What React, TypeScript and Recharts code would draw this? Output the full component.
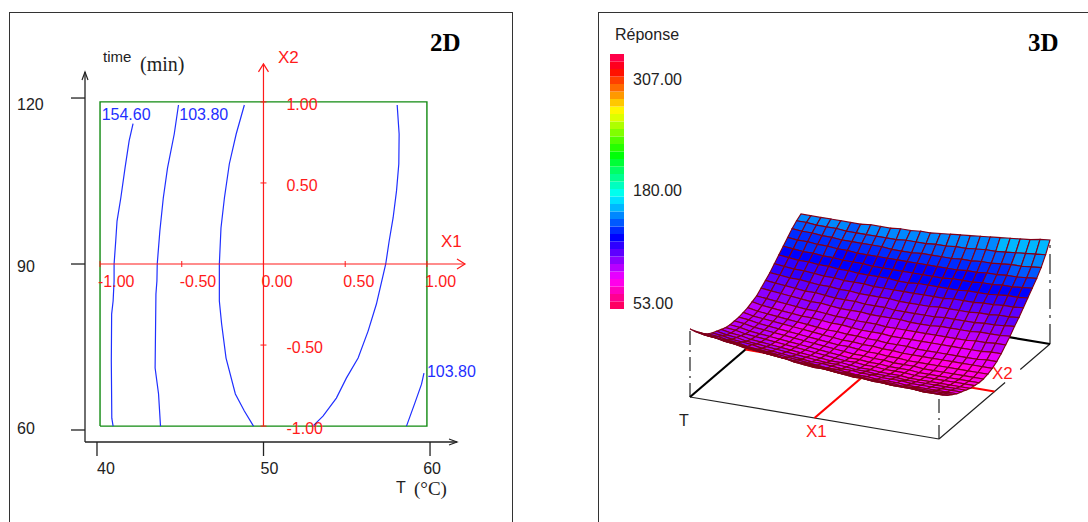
import React from 'react';
import { Bar, BarChart, Scatter, ScatterChart, XAxis, YAxis } from 'recharts';

const RED = '#ff1a1a';
const BLUE = '#1f2fff';
const INK = '#222222';

// 2D panel
const tempTicks = [40, 50, 60];
const timeTicks = [60, 90, 120];
const x1Labels = [-1, -0.5, 0, 0.5, 1];
const x2Labels = [1, 0.5, -0.5, -1];

const contour1 = [
    [-0.798, 0.866], [-0.822, 0.759], [-0.847, 0.593], [-0.873, 0.407], [-0.896, 0.265], [-0.904, 0.142], [-0.914, 0],
    [-0.914, -0.105], [-0.92, -0.228], [-0.929, -0.309], [-0.931, -0.599], [-0.928, -0.951], [-0.92, -1],
];
const contour2 = [
    [-0.52, 0.981], [-0.546, 0.802], [-0.587, 0.593], [-0.613, 0.407], [-0.634, 0.204], [-0.65, 0],
    [-0.652, -0.105], [-0.658, -0.185], [-0.663, -0.642], [-0.642, -0.802], [-0.63, -1],
];
const contour3 = [
    [-0.117, 0.981], [-0.167, 0.802], [-0.209, 0.617], [-0.239, 0.407], [-0.26, 0.222], [-0.27, 0],
    [-0.27, -0.228], [-0.256, -0.37], [-0.229, -0.58], [-0.172, -0.802], [-0.117, -0.907], [-0.061, -1],
];
const contour4 = [
    [0.818, 0.981], [0.83, 0.802], [0.828, 0.617], [0.814, 0.451], [0.793, 0.284], [0.769, 0.142], [0.748, 0],
    [0.691, -0.247], [0.64, -0.414], [0.579, -0.58], [0.507, -0.704], [0.446, -0.827], [0.364, -0.938], [0.302, -1],
];
const contour5 = [[0.982, -0.673], [0.967, -0.741], [0.926, -0.858], [0.875, -1]];
const contours = [contour1, contour2, contour3, contour4, contour5];

const contourLabels = [
    { x: -0.99, y: 0.888, text: '154.60' },
    { x: -0.515, y: 0.888, text: '103.80' },
    { x: 1, y: -0.7, text: '103.80' },
];

// colour scale, bottom to top, hue of each band
const bandHues = [
    337, 326, 315, 305, 294, 283, 273, 262, 251, 240, 230, 219, 208, 197, 187, 176, 165,
    154, 144, 133, 122, 111, 101, 90, 79, 68, 58, 47, 36, 25, 15, 4, 353, 343,
];
const RESPONSE_MIN = 53;
const RESPONSE_MAX = 307;

// response over the 3D grid: one row per X2 step (front to back), one value per X1 step
const surface = [
    [119, 117, 116, 114, 113, 111, 110, 109, 107, 106, 105, 104, 103, 102, 101, 100, 100, 99, 98, 98, 97, 97, 97, 96, 96, 96],
    [113, 111, 110, 108, 107, 105, 104, 103, 102, 101, 99, 98, 97, 97, 96, 95, 94, 94, 93, 93, 92, 92, 92, 91, 91, 91],
    [108, 106, 105, 103, 102, 101, 99, 98, 97, 96, 95, 94, 93, 92, 91, 91, 90, 89, 89, 88, 88, 88, 87, 87, 87, 87],
    [103, 101, 100, 99, 97, 96, 95, 94, 92, 91, 90, 90, 89, 88, 87, 87, 86, 85, 85, 85, 84, 84, 84, 84, 84, 84],
    [99, 98, 96, 95, 93, 92, 91, 90, 89, 88, 87, 86, 85, 85, 84, 83, 83, 82, 82, 82, 81, 81, 81, 81, 81, 81],
    [96, 95, 93, 92, 91, 89, 88, 87, 86, 85, 84, 84, 83, 82, 82, 81, 81, 80, 80, 80, 79, 79, 79, 79, 79, 79],
    [94, 92, 91, 89, 88, 87, 86, 85, 84, 83, 82, 81, 81, 80, 79, 79, 78, 78, 78, 77, 77, 77, 77, 77, 77, 77],
    [92, 90, 89, 87, 86, 85, 84, 83, 82, 81, 80, 79, 79, 78, 77, 77, 76, 76, 76, 75, 75, 75, 75, 75, 75, 75],
    [90, 89, 87, 86, 85, 84, 83, 82, 81, 80, 79, 78, 77, 77, 76, 76, 75, 75, 75, 74, 74, 74, 74, 74, 74, 74],
    [89, 88, 86, 85, 84, 83, 82, 81, 80, 79, 78, 77, 76, 76, 75, 75, 74, 74, 74, 73, 73, 73, 73, 73, 73, 73],
    [89, 88, 86, 85, 84, 83, 82, 81, 80, 79, 78, 77, 76, 76, 75, 75, 74, 74, 74, 73, 73, 73, 73, 73, 73, 73],
    [89, 88, 86, 85, 84, 83, 82, 81, 80, 79, 78, 78, 77, 76, 76, 75, 75, 74, 74, 74, 74, 74, 74, 74, 74, 74],
    [90, 88, 87, 86, 85, 84, 83, 82, 81, 80, 79, 79, 78, 78, 77, 77, 76, 76, 76, 76, 76, 76, 76, 76, 76, 76],
    [91, 89, 88, 87, 86, 85, 84, 83, 82, 82, 81, 81, 80, 80, 79, 79, 79, 78, 78, 78, 78, 78, 78, 78, 79, 79],
    [93, 91, 90, 89, 88, 87, 87, 86, 85, 85, 84, 83, 83, 83, 82, 82, 82, 82, 82, 82, 82, 82, 82, 82, 83, 83],
    [95, 94, 93, 92, 91, 90, 90, 89, 88, 88, 87, 87, 87, 86, 86, 86, 86, 86, 86, 86, 86, 86, 87, 87, 88, 88],
    [99, 98, 97, 96, 95, 94, 94, 93, 92, 92, 92, 91, 91, 91, 91, 90, 90, 90, 91, 91, 91, 91, 92, 92, 92, 93],
    [103, 102, 101, 100, 99, 99, 98, 97, 97, 97, 96, 96, 96, 95, 95, 95, 95, 95, 96, 96, 96, 96, 97, 97, 98, 99],
    [107, 106, 105, 105, 104, 103, 103, 102, 102, 101, 101, 101, 101, 100, 100, 100, 100, 101, 101, 101, 101, 102, 102, 103, 103, 104],
    [112, 111, 110, 110, 109, 108, 108, 107, 107, 107, 106, 106, 106, 106, 106, 106, 106, 106, 107, 107, 107, 108, 108, 109, 109, 110],
    [117, 116, 115, 115, 114, 114, 113, 113, 112, 112, 112, 112, 111, 111, 112, 112, 112, 112, 112, 113, 113, 113, 114, 115, 115, 116],
    [122, 121, 120, 120, 119, 119, 118, 118, 118, 117, 117, 117, 117, 117, 117, 117, 117, 118, 118, 118, 119, 119, 120, 120, 121, 122],
    [127, 126, 126, 125, 125, 124, 124, 123, 123, 123, 123, 123, 123, 123, 123, 123, 123, 123, 124, 124, 125, 125, 126, 126, 127, 128],
    [132, 131, 131, 130, 130, 129, 129, 129, 129, 129, 128, 128, 128, 129, 129, 129, 129, 130, 130, 131, 131, 132, 133, 133, 134, 135],
    [136, 136, 135, 135, 135, 134, 134, 134, 134, 134, 134, 135, 135, 135, 136, 136, 137, 137, 138, 139, 139, 140, 141, 142, 143, 144],
    [139, 139, 139, 139, 139, 139, 139, 140, 140, 140, 141, 141, 142, 142, 143, 144, 145, 146, 147, 148, 149, 150, 151, 152, 154, 155],
];

const COLOUR_SHIFT = 6;
const bandFor = (response: number) => {
    const i = Math.floor(((response + COLOUR_SHIFT - RESPONSE_MIN) / (RESPONSE_MAX - RESPONSE_MIN)) * bandHues.length);
    return Math.max(0, Math.min(bandHues.length - 1, i));
};
const bandColor = (response: number) => `hsl(${bandHues[bandFor(response)]},100%,50%)`;

// oblique view of the 3D box: u along X1, v along X2, response upward
const view = (u: number, v: number, response = 51) => ({
    x: 690 + 249 * u + 111 * v,
    y: 397 + 42 * u - 95 * v - (response - 51),
});

const rows = surface.length;
const cols = surface[0].length;
const surfacePoints = surface.flatMap((row, j) =>
    row.map((response, i) => view(i / (cols - 1), j / (rows - 1), response)),
);

const noMark = () => null;

const SurfaceMesh = ({ points }: any) => {
    const at = (i: number, j: number) => points[j * cols + i];
    const cells: React.ReactNode[] = [];
    for (let j = rows - 2; j >= 0; j--) {
        for (let i = 0; i < cols - 1; i++) {
            const corners = [at(i, j), at(i + 1, j), at(i + 1, j + 1), at(i, j + 1)];
            const mean = (surface[j][i] + surface[j][i + 1] + surface[j + 1][i] + surface[j + 1][i + 1]) / 4;
            cells.push(
                <polygon
                    key={`${i}-${j}`}
                    points={corners.map((p) => `${p.x},${p.y}`).join(' ')}
                    fill={bandColor(mean)}
                    stroke="#800018"
                    strokeWidth={1.15}
                />,
            );
        }
    }
    return <g>{cells}</g>;
};

const Label = ({ x, y, text, size = 16, color = INK, serif = false, bold = false }: any) => (
    <div
        style={{
            position: 'absolute',
            left: x,
            top: y - 12,
            lineHeight: '24px',
            fontSize: size,
            color,
            whiteSpace: 'pre',
            fontWeight: bold ? 'bold' : 'normal',
            fontFamily: serif ? '"Liberation Serif", serif' : '"Liberation Sans", sans-serif',
        }}
    >
        {text}
    </div>
);

const SANS = '"Liberation Sans", sans-serif';

const tempTick = ({ x, y, payload }: any) => (
    <text x={x + ({ 40: 9, 50: 6, 60: 2 } as any)[payload.value]} y={y + 16} textAnchor="middle" fontSize={16} fontFamily={SANS} fill={INK}>
        {payload.value}
    </text>
);

const timeTick = ({ y, payload }: any) => (
    <text x={17} y={y + 8 + ({ 120: 4, 90: 0, 60: -4 } as any)[payload.value]} fontSize={16} fontFamily={SANS} fill={INK}>
        {payload.value}
    </text>
);

const arrowUp = (color: string, reach: number) => ({ cx, cy }: any) => (
    <path d={`M${cx - reach} ${cy + 8} L${cx} ${cy} L${cx + reach} ${cy + 8}`} fill="none" stroke={color} strokeWidth={1.2} />
);
const arrowRight = (color: string, reach: number) => ({ cx, cy }: any) => (
    <path d={`M${cx - 8} ${cy - reach} L${cx} ${cy} L${cx - 8} ${cy + reach}`} fill="none" stroke={color} strokeWidth={1.2} />
);

const x1Tick = ({ cx, cy, payload }: any) => (
    <g>
        <line x1={cx} x2={cx} y1={cy - 3} y2={cy + 3} stroke={RED} />
        <text x={cx - 2} y={cy + 23} fontSize={16} fontFamily={SANS} fill={RED}>
            {payload.x.toFixed(2)}
        </text>
    </g>
);
const x2Tick = ({ cx, cy, payload }: any) => (
    <g>
        <line x1={cx - 3} x2={cx + 3} y1={cy} y2={cy} stroke={RED} />
        <text x={cx + 23} y={cy + 8} fontSize={16} fontFamily={SANS} fill={RED}>
            {payload.y.toFixed(2)}
        </text>
    </g>
);
const contourLabel = ({ cx, cy, payload }: any) => (
    <text x={cx} y={cy} fontSize={16} fontFamily={SANS} fill={BLUE}>
        {payload.text}
    </text>
);

const pts = (list: number[][]) => list.map(([x, y]) => ({ x, y }));

const TEMP_START = 39.28;
const TEMP_END = 61.62;
const TIME_START = 57.83;
const TIME_END = 124.7;

const Panel2D = () => (
    <ScatterChart width={512} height={522} margin={{ top: 63, right: 47, bottom: 50, left: 25 }} style={{ position: 'absolute', left: 0, top: 0 }}>
        <XAxis
            xAxisId="temp"
            dataKey="x"
            type="number"
            domain={[TEMP_START, 62.1]}
            ticks={tempTicks}
            interval={0}
            height={30}
            tickSize={14}
            tick={tempTick}
            axisLine={false}
            tickLine={{ stroke: INK, strokeWidth: 1.3 }}
        />
        <YAxis
            yAxisId="time"
            dataKey="y"
            type="number"
            domain={[TIME_START, 126.33]}
            ticks={timeTicks}
            interval={0}
            width={60}
            tickSize={14}
            tick={timeTick}
            axisLine={false}
            tickLine={{ stroke: INK, strokeWidth: 1.3 }}
        />
        <XAxis xAxisId="coded" dataKey="x" type="number" domain={[-1.092, 1.233]} height={0} hide />
        <YAxis yAxisId="coded" dataKey="y" type="number" domain={[-1.098, 1.24]} width={0} hide />

        <Scatter xAxisId="temp" yAxisId="time" data={pts([[TEMP_START, TIME_START], [TEMP_END, TIME_START]])} line={{ stroke: INK, strokeWidth: 1.3 }} shape={noMark} isAnimationActive={false} />
        <Scatter xAxisId="temp" yAxisId="time" data={pts([[TEMP_START, TIME_START], [TEMP_START, TIME_END]])} line={{ stroke: INK, strokeWidth: 1.3 }} shape={noMark} isAnimationActive={false} />
        <Scatter xAxisId="temp" yAxisId="time" data={pts([[TEMP_START, TIME_END]])} shape={arrowUp(INK, 3)} isAnimationActive={false} />
        <Scatter xAxisId="temp" yAxisId="time" data={pts([[TEMP_END, TIME_START]])} shape={arrowRight(INK, 3)} isAnimationActive={false} />

        <Scatter
            xAxisId="coded"
            yAxisId="coded"
            data={pts([[-1, -1], [1, -1], [1, 1], [-1, 1], [-1, -1]])}
            line={{ stroke: '#118a11', strokeWidth: 1.4 }}
            shape={noMark}
            isAnimationActive={false}
        />
        {contours.map((c, i) => (
            <Scatter
                key={i}
                xAxisId="coded"
                yAxisId="coded"
                data={pts(c)}
                line={{ stroke: BLUE, strokeWidth: 1.2 }}
                shape={noMark}
                isAnimationActive={false}
            />
        ))}
        <Scatter xAxisId="coded" yAxisId="coded" data={pts([[-1, 0], [1.233, 0]])} line={{ stroke: RED, strokeWidth: 1.2 }} shape={noMark} isAnimationActive={false} />
        <Scatter xAxisId="coded" yAxisId="coded" data={pts([[0, -1], [0, 1.235]])} line={{ stroke: RED, strokeWidth: 1.2 }} shape={noMark} isAnimationActive={false} />
        <Scatter xAxisId="coded" yAxisId="coded" data={[{ x: 1.233, y: 0 }]} shape={arrowRight(RED, 5)} isAnimationActive={false} />
        <Scatter xAxisId="coded" yAxisId="coded" data={[{ x: 0, y: 1.235 }]} shape={arrowUp(RED, 5)} isAnimationActive={false} />
        <Scatter xAxisId="coded" yAxisId="coded" data={x1Labels.map((x) => ({ x, y: 0 }))} shape={x1Tick} isAnimationActive={false} />
        <Scatter xAxisId="coded" yAxisId="coded" data={x2Labels.map((y) => ({ x: 0, y }))} shape={x2Tick} isAnimationActive={false} />
        <Scatter xAxisId="coded" yAxisId="coded" data={contourLabels} shape={contourLabel} isAnimationActive={false} />
    </ScatterChart>
);

const seg = (a: { x: number; y: number }, b: { x: number; y: number }) => [a, b];

const boxLines = [
    { points: seg(view(0, 0), view(1, 0)), stroke: INK, width: 1.2 },
    { points: seg(view(1, 0), view(1, 1)), stroke: INK, width: 1.2, dash: '87 20 40' },
    { points: seg(view(0, 0), view(0, 0, 119)), stroke: INK, width: 1.2, dash: '14 5 2 5' },
    { points: seg(view(1, 0), view(1, 0, 96)), stroke: INK, width: 1.2, dash: '14 5 2 5' },
    { points: seg(view(1, 1), view(1, 1, 155)), stroke: INK, width: 1.2, dash: '20 6 3 6' },
    { points: seg(view(0, 0), view(0, 1)), stroke: '#000000', width: 2.2 },
    { points: seg(view(0, 1), view(1, 1)), stroke: '#000000', width: 2.2 },
    { points: seg(view(0, 0.5), view(1, 0.5)), stroke: '#ff0000', width: 2.2 },
    { points: seg(view(0.5, 0), view(0.5, 1)), stroke: '#ff0000', width: 2.2 },
];

const Panel3D = () => (
    <ScatterChart width={490} height={522} margin={{ top: 0, right: 0, bottom: 0, left: 0 }} style={{ position: 'absolute', left: 598, top: 0 }}>
        <XAxis dataKey="x" type="number" domain={[598, 1088]} hide />
        <YAxis dataKey="y" type="number" domain={[0, 522]} reversed hide />
        {boxLines.map((l, i) => (
            <Scatter
                key={i}
                data={l.points}
                line={{ stroke: l.stroke, strokeWidth: l.width, strokeDasharray: l.dash }}
                shape={noMark}
                isAnimationActive={false}
            />
        ))}
        <Scatter data={surfacePoints} line={SurfaceMesh} shape={noMark} isAnimationActive={false} />
    </ScatterChart>
);

const bandHeight = (RESPONSE_MAX - RESPONSE_MIN) / bandHues.length;
const scaleRow = [Object.fromEntries(bandHues.map((_, i) => [`b${i}`, bandHeight]))];

const ColourScale = () => (
    <BarChart
        width={14}
        height={255}
        data={scaleRow}
        barCategoryGap={0}
        margin={{ top: 0, right: 0, bottom: 0, left: 0 }}
        style={{ position: 'absolute', left: 610, top: 54 }}
    >
        <XAxis hide />
        <YAxis hide type="number" domain={[0, RESPONSE_MAX - RESPONSE_MIN]} />
        {bandHues.map((hue, i) => (
            <Bar key={i} dataKey={`b${i}`} stackId="scale" fill={`hsl(${hue},100%,50%)`} isAnimationActive={false} />
        ))}
    </BarChart>
);

const frame = (left: number, width: number): React.CSSProperties => ({
    position: 'absolute',
    left,
    top: 12,
    width,
    height: 540,
    border: '1.4px solid #333',
    boxSizing: 'border-box',
});

export default function App() {
    return (
        <div style={{ position: 'absolute', left: 0, top: 0, width: 1088, height: 522, overflow: 'hidden', background: '#fff' }}>
            <div style={frame(9, 504)} />
            <div style={frame(598, 520)} />
            <Panel2D />
            <Panel3D />
            <ColourScale />

            <Label x={430} y={43} text="2D" size={25} color="#000" serif bold />
            <Label x={1028} y={43} text="3D" size={25} color="#000" serif bold />
            <Label x={103} y={57} text="time" size={15} />
            <Label x={140} y={64} text="(min)" size={20} serif />
            <Label x={396} y={488} text="T" size={16} />
            <Label x={414} y={489} text="(°C)" size={19} serif />
            <Label x={441} y={242} text="X1" size={17} color={RED} />
            <Label x={278} y={58} text="X2" size={17} color={RED} />

            <Label x={615} y={35} text="Réponse" size={16} />
            <Label x={633} y={80} text="307.00" size={16} />
            <Label x={633} y={191} text="180.00" size={16} />
            <Label x={633} y={304} text="53.00" size={16} />
            <Label x={679} y={421} text="T" size={16} />
            <Label x={806} y={432} text="X1" size={17} color={RED} />
            <Label x={992} y={374} text="X2" size={17} color={RED} />
        </div>
    );
}
